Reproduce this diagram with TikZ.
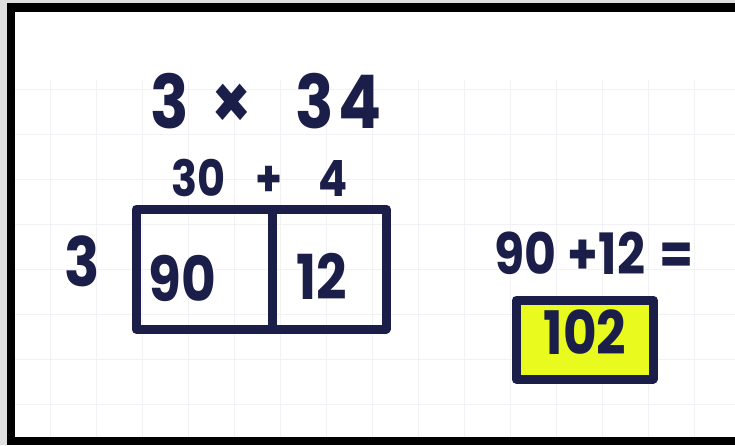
\documentclass[tikz,border=0pt]{standalone}
\usepackage{fontspec}
\setmainfont{Poppins}[FakeStretch=0.86]
\usepackage{xcolor}
\usetikzlibrary{positioning,calc}
\definecolor{ink}{RGB}{27,30,72}
\definecolor{marker}{RGB}{232,250,30}
\definecolor{gridline}{RGB}{242,241,246}

\begin{document}
\begin{tikzpicture}[
    x=1pt, y=-1pt,
    hand/.style={text=ink, inner sep=0pt,
                 font=\fontsize{#1}{#1}\selectfont\bfseries},
    pen/.style={draw=ink, line width=9pt, line join=round},
    rule/.style={draw=gridline, line width=1pt}
]
\useasboundingbox (0,0) rectangle (735,445);

%% PAPER
\fill[white] (0,0) rectangle (735,445);
\foreach \gy in {89,134,...,420}
    \draw[rule] (15,\gy) -- (735,\gy);
\foreach \gx in {50,96,...,730}
    \draw[rule] (\gx,80) -- (\gx,437);

%% FRAME
\fill[gray!25] (0,0) rectangle (735,3);
\fill[gray!25] (0,0) rectangle (7,445);
\fill[black] (7,3) rectangle (735,12);
\fill[black] (7,3) rectangle (15,445);
\fill[black] (7,437) rectangle (735,445);

%% PROBLEM
\node[hand=74] (prob) at (266,101) {3\hspace{22pt}×\hspace{44pt}3\kern4pt4};
\node[hand=50] (parts) at (260,178) {30\hspace{30pt}+\hspace{36pt}4};

%% AREA MODEL
\node[pen, minimum width=250pt, minimum height=120pt] (area) at (261,269) {};
\coordinate (cut) at (272,269);
\draw[pen] (cut |- area.north) -- (cut |- area.south);
\node[hand=68] (side) at (82,261) {3};
\node[hand=62] (tens) at (182,278) {90};
\node[hand=62] (ones) at (322,276) {12};

%% SUM
\node[hand=57] (sum) at (594,253) {90\hspace{11pt}+12\hspace{14pt}=};
\node[pen, fill=marker, minimum width=137pt, minimum height=79pt]
    (answer) at (584.5,339.5) {};
\node[hand=60] (result) at (585,332) {102};

\end{tikzpicture}
\end{document}
